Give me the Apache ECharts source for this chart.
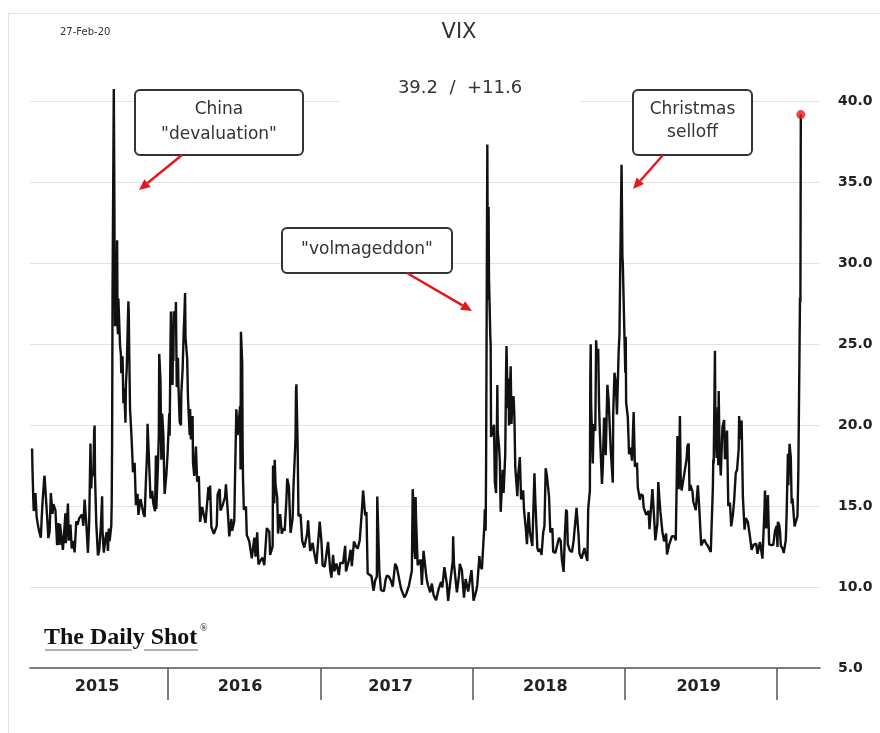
<!DOCTYPE html>
<html>
<head>
<meta charset="utf-8">
<title>VIX</title>
<script src="https://cdn.jsdelivr.net/npm/echarts@6/dist/echarts.min.js"></script>
<style>
  html, body { margin: 0; padding: 0; background: #fff; }
  #chart { width: 880px; height: 733px; }
</style>
</head>
<body>
<div id="chart"></div>
<script>
// VIX closes, a few points per week (MM-DD per year)
var d2015 = ['02-09','02-10','02-12','02-13','02-17','02-20','02-24','02-27','03-02','03-04','03-06','03-10','03-11','03-13','03-18','03-20','03-23','03-26','03-30','04-01','04-06','04-10','04-13','04-16','04-17','04-24','04-30','05-01','05-06','05-08','05-12','05-15','05-19','05-22','05-26','05-29','06-02','06-05','06-09','06-12','06-15','06-19','06-23','06-26','06-29','07-01','07-02','07-06','07-08','07-09','07-10','07-13','07-17','07-20','07-24','07-27','07-28','07-31','08-04','08-07','08-10','08-12','08-14','08-18','08-19','08-20','08-21','08-24','08-25','08-26','08-27','08-28','08-31','09-01','09-02','09-03','09-04','09-08','09-10','09-11','09-14','09-16','09-18','09-21','09-22','09-24','09-28','09-29','09-30','10-02','10-05','10-07','10-09','10-13','10-16','10-20','10-22','10-27','10-30','11-03','11-06','11-09','11-12','11-13','11-16','11-18','11-20','11-24','11-27','12-01','12-03','12-04','12-08','12-10','12-11','12-14','12-16','12-18','12-21','12-23','12-24','12-28','12-31'];
var v2015 = [18.55,17.23,15.34,14.69,15.80,14.30,13.69,13.34,13.04,14.23,15.20,16.69,16.87,16.00,13.97,13.02,13.41,15.80,14.51,15.11,14.74,12.58,13.94,12.60,13.89,12.29,14.55,12.70,15.15,12.86,13.86,12.38,12.85,12.13,14.06,13.84,14.24,14.21,14.47,13.78,15.39,13.96,12.11,14.02,18.85,16.09,16.79,17.01,19.66,19.97,16.83,13.90,11.95,12.25,13.74,15.60,13.44,12.12,13.00,13.39,12.23,13.61,12.83,13.79,15.25,19.14,28.03,40.74,36.02,30.32,26.10,26.05,28.43,31.40,26.09,25.61,27.80,24.90,24.37,23.20,24.25,21.35,22.28,20.14,22.44,23.47,27.63,26.83,24.50,20.94,19.54,18.40,17.08,17.67,15.05,15.75,14.45,15.43,15.07,14.54,14.33,16.52,18.37,20.08,18.16,16.85,15.47,15.93,15.12,14.67,18.11,14.81,17.60,19.34,24.39,22.73,17.86,20.70,19.34,16.60,15.74,16.91,18.21];

var d2016 = ['01-04','01-05','01-07','01-08','01-11','01-12','01-13','01-14','01-15','01-19','01-20','01-22','01-25','01-26','01-29','02-01','02-02','02-05','02-08','02-09','02-11','02-12','02-16','02-18','02-22','02-23','02-25','02-29','03-01','03-04','03-08','03-11','03-15','03-18','03-23','03-31','04-07','04-08','04-11','04-14','04-20','04-22','04-27','04-29','05-04','05-06','05-11','05-13','05-17','05-19','05-24','05-27','06-01','06-03','06-08','06-10','06-13','06-16','06-17','06-22','06-23','06-24','06-27','06-28','06-29','07-01','07-06','07-08','07-14','07-20','07-26','07-29','08-02','08-05','08-11','08-15','08-19','08-25','08-31','09-02','09-08','09-09','09-12','09-13','09-15','09-19','09-21','09-26','09-30','10-04','10-07','10-11','10-13','10-17','10-21','10-26','10-28','11-01','11-02','11-03','11-04','11-07','11-08','11-09','11-14','11-18','11-23','11-30','12-02','12-07','12-13','12-16','12-22','12-30'];
var v2016 = [20.70,19.34,24.99,27.01,24.30,22.47,25.22,23.95,27.02,26.05,27.59,22.34,24.15,22.50,20.20,19.98,21.98,23.38,26.00,26.54,28.14,25.40,24.11,21.64,19.38,20.98,19.11,20.55,17.70,16.86,18.67,16.50,16.84,14.02,14.94,13.95,16.16,15.36,16.26,13.72,13.28,13.22,13.77,15.70,16.05,14.72,15.04,15.04,15.57,16.33,14.42,13.12,14.20,13.47,14.08,17.03,20.97,19.37,19.41,21.17,17.25,25.76,23.85,18.75,16.64,14.77,14.96,13.20,12.82,11.77,13.05,11.87,13.37,11.39,11.68,11.81,11.34,13.63,13.42,11.98,12.51,17.50,15.16,17.85,16.30,15.53,13.30,14.50,13.29,13.63,13.48,15.36,16.69,16.21,13.34,14.24,16.19,18.56,19.32,22.08,22.51,18.71,18.74,14.38,14.48,12.85,12.43,13.33,14.12,12.22,12.72,12.20,11.43,14.04];

var d2017 = ['01-03','01-06','01-11','01-13','01-19','01-24','01-27','01-31','02-03','02-08','02-14','02-17','02-24','03-01','03-03','03-10','03-14','03-17','03-21','03-22','03-27','03-31','04-05','04-07','04-11','04-13','04-18','04-21','04-24','04-28','05-03','05-08','05-12','05-16','05-17','05-18','05-22','05-26','06-02','06-06','06-09','06-14','06-19','06-23','06-29','07-03','07-07','07-13','07-21','07-26','08-01','08-04','08-08','08-10','08-11','08-14','08-16','08-17','08-18','08-22','08-25','08-29','09-01','09-05','09-08','09-12','09-15','09-21','09-25','09-29','10-05','10-11','10-17','10-20','10-25','10-31','11-03','11-09','11-14','11-15','11-17','11-24','11-29','12-01','12-06','12-11','12-15','12-21','12-29'];
var v2017 = [12.85,11.32,11.26,11.23,12.78,11.07,10.58,11.99,10.97,11.45,10.74,11.49,11.47,12.54,10.96,11.66,12.30,11.28,12.47,12.81,12.50,12.37,12.89,12.87,15.07,15.96,14.42,14.63,10.84,10.82,10.68,9.77,10.40,10.65,15.59,14.66,10.93,9.81,9.75,10.45,10.70,10.64,10.37,10.02,11.44,11.22,11.19,9.90,9.36,9.60,10.09,10.03,11.00,16.04,15.51,12.33,11.74,15.55,14.26,11.35,11.28,11.70,10.13,12.23,12.12,10.58,10.17,9.67,10.21,9.51,9.19,9.85,10.31,9.97,11.23,10.18,9.14,10.50,11.59,13.13,11.43,9.67,10.70,11.43,11.02,9.34,10.49,9.72,11.04];

var d2018 = ['01-03','01-05','01-10','01-12','01-17','01-19','01-23','01-26','01-29','01-30','02-01','02-02','02-05','02-06','02-07','02-08','02-09','02-12','02-13','02-14','02-16','02-21','02-23','02-26','02-28','03-01','03-02','03-05','03-07','03-09','03-14','03-16','03-20','03-22','03-23','03-26','03-28','03-29','04-02','04-04','04-06','04-09','04-11','04-13','04-18','04-20','04-24','04-27','05-02','05-04','05-09','05-11','05-15','05-18','05-24','05-29','05-31','06-05','06-08','06-12','06-15','06-19','06-22','06-25','06-28','07-03','07-06','07-11','07-13','07-18','07-23','07-27','07-31','08-03','08-07','08-10','08-13','08-15','08-17','08-22','08-27','08-31','09-04','09-07','09-12','09-14','09-19','09-21','09-26','09-28','10-03','10-05','10-09','10-10','10-11','10-12','10-16','10-18','10-19','10-22','10-24','10-26','10-29','10-31','11-02','11-07','11-09','11-12','11-15','11-16','11-20','11-23','11-28','12-03','12-04','12-07','12-10','12-13','12-17','12-19','12-21','12-24','12-26','12-27','12-31'];
var v2018 = [9.15,9.22,9.82,10.16,11.91,11.27,11.10,11.08,13.84,14.79,13.47,17.31,37.32,29.98,27.73,33.46,29.06,25.61,24.97,19.26,19.46,20.02,16.49,15.80,19.85,22.47,19.59,18.73,17.76,14.64,17.23,15.80,18.20,23.34,24.87,21.03,22.87,19.97,23.62,20.06,21.49,21.77,20.47,17.41,15.60,16.88,18.02,15.41,15.97,14.77,13.42,12.65,14.63,13.42,12.53,17.02,15.43,12.40,12.18,12.35,11.98,13.35,13.77,17.33,16.85,15.60,13.37,13.63,12.18,12.10,12.62,13.03,12.83,11.64,10.93,13.16,14.78,14.64,12.64,12.25,12.16,12.86,12.80,14.88,13.14,12.07,11.75,11.68,12.41,12.12,11.61,14.82,15.95,22.96,24.98,21.31,17.62,20.06,19.89,19.64,25.23,24.16,24.70,21.23,19.51,16.36,17.36,20.45,19.98,18.14,22.48,21.52,18.49,16.44,20.74,23.23,22.64,20.65,24.52,25.58,30.11,36.07,30.41,29.96,25.42];

var d2019 = ['01-02','01-03','01-04','01-08','01-11','01-15','01-18','01-22','01-25','01-30','02-01','02-06','02-08','02-13','02-15','02-21','02-27','03-01','03-08','03-12','03-15','03-20','03-22','03-27','04-01','04-05','04-10','04-12','04-17','04-24','04-30','05-03','05-07','05-09','05-10','05-13','05-15','05-17','05-23','05-29','05-31','06-03','06-05','06-07','06-12','06-14','06-20','06-25','06-28','07-03','07-10','07-15','07-19','07-26','07-31','08-01','08-02','08-05','08-06','08-07','08-09','08-12','08-13','08-14','08-16','08-19','08-23','08-27','08-29','09-03','09-06','09-10','09-13','09-17','09-20','09-24','09-27','10-01','10-02','10-03','10-08','10-11','10-15','10-18','10-23','10-28','11-01','11-06','11-12','11-15','11-21','11-27','12-02','12-03','12-06','12-10','12-13','12-18','12-23','12-27','12-31'];
var v2019 = [23.22,25.45,21.38,20.47,18.19,18.60,17.80,20.80,17.42,17.66,16.14,15.38,15.72,15.65,14.91,14.46,14.70,13.57,16.05,14.33,12.88,13.91,16.48,14.68,13.40,12.82,13.30,12.01,12.60,13.14,13.12,12.87,19.32,19.10,16.04,20.55,16.44,15.96,16.92,17.90,18.71,18.86,15.93,16.30,15.91,15.28,14.75,16.28,15.08,12.57,12.93,12.68,12.53,12.16,16.12,17.87,17.61,24.59,20.17,19.49,17.97,21.09,17.52,22.10,18.47,16.88,19.87,20.31,17.88,19.66,15.00,15.20,13.74,14.44,15.32,17.05,17.22,18.56,20.56,19.12,20.28,15.58,13.54,14.25,14.01,13.11,12.30,12.62,12.68,12.05,12.78,11.75,14.91,15.96,13.62,15.68,12.63,12.58,12.61,13.43,13.78];

var d2020 = ['01-02','01-03','01-06','01-08','01-10','01-14','01-17','01-22','01-24','01-27','01-28','01-31','02-03','02-05','02-07','02-12','02-14','02-19','02-21','02-24','02-25','02-26','02-27'];
var v2020 = [12.47,14.02,13.85,13.45,12.56,12.39,12.10,12.91,14.56,18.23,16.28,18.84,17.97,15.15,15.47,13.74,13.68,14.38,17.08,25.03,27.85,27.56,39.16];

var yearTicks = ['2016-01-01', '2017-01-01', '2018-01-01', '2019-01-01', '2020-01-01'];
var yearLabelDates = ['2015-07-15', '2016-06-22', '2017-06-18', '2018-06-24', '2019-06-27'];
var xMin = '2015-02-04', xMax = '2020-04-13';

function ts(s) { return new Date(s + 'T00:00:00').getTime(); }

var years = [[2015, d2015, v2015], [2016, d2016, v2016], [2017, d2017, v2017],
             [2018, d2018, v2018], [2019, d2019, v2019], [2020, d2020, v2020]];
var vixData = [];
years.forEach(function(y) {
  y[1].forEach(function(d, i) { vixData.push([ts(y[0] + '-' + d), y[2][i]]); });
});
var last = vixData[vixData.length - 1];
var prev = vixData[vixData.length - 2];
var subtitle = last[1].toFixed(1) + '  /  +' + (last[1] - prev[1]).toFixed(1);

var red = '#e3191e', ink = '#222', boxInk = '#333';

function box(x, y, w, h, lines, lineY) {
  var els = [{ type: 'rect', shape: { x: x, y: y, width: w, height: h, r: 5 },
    style: { fill: '#fff', stroke: boxInk, lineWidth: 2 }, z: 10 }];
  lines.forEach(function(t, i) {
    els.push({ type: 'text', z: 11, style: { text: t, x: x + w / 2, y: lineY[i], fill: '#333',
      font: '17px "DejaVu Sans"', align: 'center', verticalAlign: 'middle',
      textAlign: 'center', textVerticalAlign: 'middle' } });
  });
  return els;
}

function arrow(x1, y1, x2, y2) {
  var a = Math.atan2(y2 - y1, x2 - x1), L = 11, W = 5;
  var bx = x2 - L * Math.cos(a), by = y2 - L * Math.sin(a);
  return [
    { type: 'line', z: 10, shape: { x1: x1, y1: y1, x2: bx, y2: by }, style: { stroke: red, lineWidth: 2.5 } },
    { type: 'polygon', z: 10, shape: { points: [[x2, y2], [bx - W * Math.sin(a), by + W * Math.cos(a)], [bx + W * Math.sin(a), by - W * Math.cos(a)]] },
      style: { fill: red } }
  ];
}

var graphics = [
  { type: 'rect', shape: { x: 8.5, y: 13.5, width: 900, height: 800 }, style: { fill: 'none', stroke: '#e2e2e2', lineWidth: 1 }, z: 0 },
  { type: 'text', style: { text: '27-Feb-20', x: 60, y: 32, fill: '#333', font: '10px "DejaVu Sans"', verticalAlign: 'middle', textVerticalAlign: 'middle' } },
  { type: 'text', style: { text: 'VIX', x: 459, y: 33, fill: '#333', font: '21px "DejaVu Sans"', align: 'center', verticalAlign: 'middle', textAlign: 'center', textVerticalAlign: 'middle' } },
  { type: 'rect', shape: { x: 340, y: 72, width: 240, height: 34 }, style: { fill: '#fff' }, z: 5 },
  { type: 'text', z: 6, style: { text: subtitle, x: 460, y: 88, fill: '#333', font: '18px "DejaVu Sans"', align: 'center', verticalAlign: 'middle', textAlign: 'center', textVerticalAlign: 'middle' } },
  { type: 'text', style: { text: 'The Daily Shot', x: 44, y: 638, fill: '#111', font: 'bold 24px "Liberation Serif"', verticalAlign: 'middle', textVerticalAlign: 'middle' } },
  { type: 'text', style: { text: '®', x: 200, y: 628, fill: '#111', font: '10px "Liberation Serif"', verticalAlign: 'middle', textVerticalAlign: 'middle' } },
  { type: 'line', shape: { x1: 45, y1: 650, x2: 132, y2: 650 }, style: { stroke: '#666', lineWidth: 1.2 } },
  { type: 'line', shape: { x1: 144, y1: 650, x2: 198, y2: 650 }, style: { stroke: '#666', lineWidth: 1.2 } }
]
  .concat(box(135, 90, 168, 65, ['China', '"devaluation"'], [110, 135]))
  .concat(box(282, 228, 170, 45, ['"volmageddon"'], [250]))
  .concat(box(633, 90, 119, 65, ['Christmas', 'selloff'], [110, 133]))
  .concat(arrow(182, 155, 139, 190))
  .concat(arrow(407, 273, 472, 311))
  .concat(arrow(663, 155, 633, 189));

var chart = echarts.init(document.getElementById('chart'), null, { renderer: 'canvas' });
chart.setOption({
  animation: false,
  backgroundColor: '#fff',
  grid: { left: 30, right: 60, top: 101, bottom: 65 },
  xAxis: [{
    type: 'time',
    min: ts(xMin),
    max: ts(xMax),
    axisLine: { lineStyle: { color: '#555', width: 1.5 } },
    axisTick: { show: false },
    axisLabel: { show: false },
    splitLine: { show: false }
  }, {
    // year band labels and dividers
    type: 'value',
    position: 'bottom',
    min: ts(xMin),
    max: ts(xMax),
    axisLine: { show: false },
    axisTick: { show: true, customValues: yearTicks.map(ts), length: 32, lineStyle: { color: '#555', width: 1.5 } },
    axisLabel: {
      customValues: yearLabelDates.map(ts),
      formatter: function(v) { return String(new Date(v).getFullYear()); },
      color: ink, fontSize: 16, fontWeight: 'bold', fontFamily: 'DejaVu Sans', margin: 11
    },
    splitLine: { show: false }
  }],
  yAxis: {
    type: 'value',
    position: 'right',
    min: 5, max: 40, interval: 5,
    axisLine: { show: false },
    axisTick: { show: false },
    axisLabel: { formatter: function(v) { return v.toFixed(1); }, color: ink, fontSize: 14, fontWeight: 'bold', fontFamily: 'DejaVu Sans', margin: 18 },
    splitLine: { lineStyle: { color: '#e3e3e3', width: 1 } }
  },
  series: [
    { type: 'line', data: vixData, showSymbol: false, clip: false, lineStyle: { color: '#111', width: 2.4 }, z: 3 },
    { type: 'scatter', data: [last], symbolSize: 9, itemStyle: { color: red }, z: 4 }
  ],
  graphic: graphics
});
</script>
</body>
</html>
